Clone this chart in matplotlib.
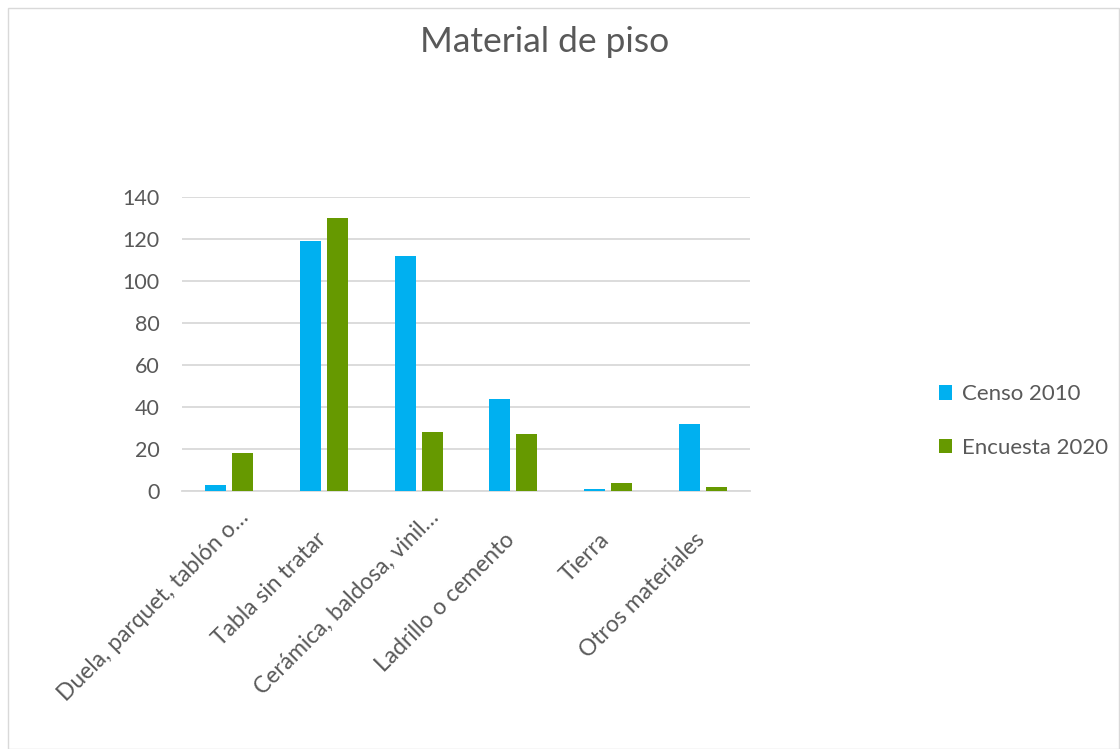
import matplotlib
matplotlib.use("Agg")
import matplotlib.pyplot as plt
import matplotlib.transforms as mtransforms
import numpy as np
from matplotlib.patches import Rectangle

categories = ["Duela, parquet, tablón o…", "Tabla sin tratar", "Cerámica, baldosa, vinil…",
              "Ladrillo o cemento", "Tierra", "Otros materiales"]
censo_2010 = [3, 119, 112, 44, 1, 32]
encuesta_2020 = [18, 130, 28, 27, 4, 2]
series_names = ["Censo 2010", "Encuesta 2020"]
yticks = [0, 20, 40, 60, 80, 100, 120, 140]

blue = "#00B0F0"
green = "#669900"
text_gray = "#595959"
grid_gray = "#D9D9D9"

plt.rcParams['font.family'] = ['Lato', 'DejaVu Sans']

W, H = 1120, 749
fig = plt.figure(figsize=(W/100, H/100), dpi=100)
fig.patches.append(Rectangle((8/W, 0), (W-8)/W - 1/W, 1 - 8/H, transform=fig.transFigure,
                             fill=False, edgecolor="#D9D9D9", linewidth=1))

ax = fig.add_axes([182/W, 1 - 491/H, (750-182)/W, (491-197)/H])
x = np.arange(len(categories))
bw = 0.225
gap = 0.06
ax.bar(x - (bw+gap)/2, censo_2010, width=bw, color=blue, label=series_names[0], zorder=3)
ax.bar(x + (bw+gap)/2, encuesta_2020, width=bw, color=green, label=series_names[1], zorder=3)

ax.set_xlim(-0.5, len(categories) - 0.5)
ax.set_ylim(0, 140)
ax.set_yticks(yticks)
ax.yaxis.grid(True, color=grid_gray, linewidth=1.3, zorder=0)
ax.set_axisbelow(True)
for s in ["top", "right", "left"]:
    ax.spines[s].set_visible(False)
ax.spines["bottom"].set_color(grid_gray)
ax.spines["bottom"].set_linewidth(1.3)
ax.tick_params(axis="both", length=0, colors=text_gray, labelsize=15.5)
ax.tick_params(axis="y", pad=16)
ax.set_xticks(x)
ax.set_xticklabels([])

# rotated category labels, right/baseline end just below each category
for xi, lab in zip(x, categories):
    dx, dy = 3, -50
    if lab.endswith("…"):
        dx, dy = 21, -28
    off = mtransforms.ScaledTranslation(dx/100, dy/100, fig.dpi_scale_trans)
    tr = mtransforms.blended_transform_factory(ax.transData, ax.transAxes) + off
    ax.text(xi, 0, lab, transform=tr, rotation=45, ha="right", va="baseline",
            rotation_mode="anchor", fontsize=16.5, color=text_gray)

fig.text(545/W, 1 - 42/H, "Material de piso", ha="center", va="center", fontsize=25.5,
         color=text_gray)

leg = fig.legend(loc="center left", bbox_to_anchor=(919/W, 1 - 421/H), frameon=False,
                 fontsize=16, handlelength=0.6, handleheight=0.6, handletextpad=0.45,
                 labelspacing=1.5, labelcolor=text_gray)

fig.savefig("out.png", dpi=100)
